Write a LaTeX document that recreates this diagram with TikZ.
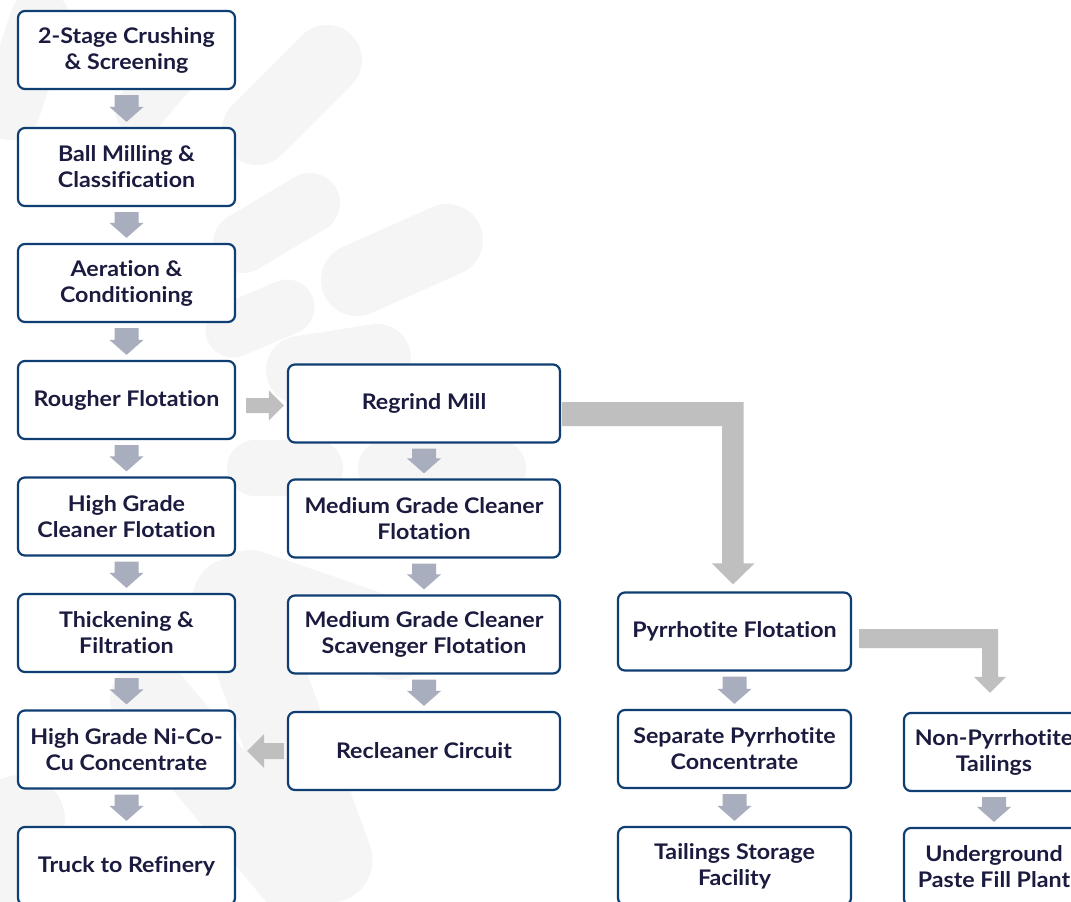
\documentclass[tikz,border=0pt]{standalone}
\usepackage{fontspec}
\setmainfont{Lato}[RawFeature=-liga, FakeStretch=1.08]
\usetikzlibrary{calc}
\definecolor{txtcol}{HTML}{1B1B3F}
\definecolor{bordcol}{HTML}{0F3E72}
\definecolor{dncol}{HTML}{A8AEBD}
\definecolor{hzcol}{HTML}{BFBFBF}
\definecolor{bgcap}{HTML}{F5F5F5}
\tikzset{
  box/.style={draw=bordcol, line width=2.2pt, rounded corners=7pt, fill=white,
    text=txtcol, align=center, inner sep=0pt,
    font=\fontsize{21.5}{26}\selectfont\bfseries},
  c1/.style={box, minimum width=217pt, minimum height=78pt},
  c2/.style={box, minimum width=272pt, minimum height=78pt},
  c3/.style={box, minimum width=233pt, minimum height=78pt},
  c4/.style={box, minimum width=180pt, minimum height=78pt},
  capsule/.style={draw=bgcap, line cap=round},
}
\newcommand\dnarrow[2]{%
  \fill[dncol] let \p1=($(#1.south)+(0,5)$), \p2=($(#2.north)+(0,-5)$) in
    (\x1-12pt,\y1) -- (\x1+12pt,\y1) -- (\x1+12pt,\y2+15pt) -- (\x1+17pt,\y2+15pt)
    -- (\x1,\y2) -- (\x1-17pt,\y2+15pt) -- (\x1-12pt,\y2+15pt) -- cycle;}
\begin{document}
\begin{tikzpicture}[x=1pt,y=-1pt]
\useasboundingbox (0,0) rectangle (1071,902);
\clip (0,0) rectangle (1071,902);
\fill[white] (0,0) rectangle (1071,902);
% faint background capsules
\draw[capsule, line width=70pt] (257,130) -- (327,60);
\draw[capsule, line width=60pt] (243,243) -- (310,203);
\draw[capsule, line width=72pt] (357,280) -- (447,240);
\draw[capsule, line width=55pt] (233,330) -- (287,307);
\draw[capsule, line width=68pt] (300,370) -- (377,358);
\draw[capsule, line width=56pt] (255,468) -- (315,468);
\draw[capsule, line width=56pt] (386,468) -- (498,468);
\draw[capsule, line width=80pt] (250,590) -- (395,640);
\draw[capsule, line width=85pt] (235,600) -- (330,860);
\draw[capsule, line width=80pt] (150,700) -- (300,880);
\draw[capsule, line width=90pt] (0,860) -- (20,820);
\draw[capsule, line width=60pt] (10,110) -- (40,20);
\draw[capsule, line width=50pt] (140,110) -- (200,40);
% column 1
\node[c1] (n1) at (126.5,50) {2-Stage Crushing\\\& Screening};
\node[c1] (n2) at (126.5,167) {Ball Milling \&\\Classification};
\node[c1] (n3) at (126.5,283) {Aeration \&\\Conditioning};
\node[c1] (n4) at (126.5,400) {Rougher Flotation};
\node[c1] (n5) at (126.5,516.5) {High Grade\\Cleaner Flotation};
\node[c1] (n6) at (126.5,633) {Thickening \&\\Filtration};
\node[c1] (n7) at (126.5,749.5) {High Grade Ni-Co-\\Cu Concentrate};
\node[c1] (n8) at (126.5,866) {Truck to Refinery};
% column 2
\node[c2] (m1) at (424,403.5) {Regrind Mill};
\node[c2] (m2) at (424,518.5) {Medium Grade Cleaner\\Flotation};
\node[c2] (m3) at (424,634.5) {Medium Grade Cleaner\\Scavenger Flotation};
\node[c2] (m4) at (424,751) {Recleaner Circuit};
% column 3
\node[c3] (p1) at (734.5,631.5) {Pyrrhotite Flotation};
\node[c3] (p2) at (734.5,749) {Separate Pyrrhotite\\Concentrate};
\node[c3] (p3) at (734.5,866) {Tailings Storage\\Facility};
% column 4
\node[c4] (q1) at (994,752) {Non-Pyrrhotite\\Tailings};
\node[c4] (q2) at (994,867) {Underground\\Paste Fill Plant};
% down arrows
\dnarrow{n1}{n2}
\dnarrow{n2}{n3}
\dnarrow{n3}{n4}
\dnarrow{n4}{n5}
\dnarrow{n5}{n6}
\dnarrow{n6}{n7}
\dnarrow{n7}{n8}
\dnarrow{m1}{m2}
\dnarrow{m2}{m3}
\dnarrow{m3}{m4}
\dnarrow{p1}{p2}
\dnarrow{p2}{p3}
\dnarrow{q1}{q2}
% Rougher -> Regrind
\fill[hzcol] let \p1=($(n4.east)+(10,0)$), \p2=($(m1.west)+(-3,2)$) in
  (\x1,\y2+7.5pt) -- (\x2-15pt,\y2+7.5pt) -- (\x2-15pt,\y2+15pt) -- (\x2,\y2)
  -- (\x2-15pt,\y2-15pt) -- (\x2-15pt,\y2-7.5pt) -- (\x1,\y2-7.5pt) -- cycle;
% Recleaner -> HG concentrate
\fill[hzcol] let \p1=($(m4.west)+(-3,0)$), \p2=($(n7.east)+(11,0)$) in
  (\x1,\y1+8pt) -- (\x2+17pt,\y1+8pt) -- (\x2+17pt,\y1+17pt) -- (\x2,\y1)
  -- (\x2+17pt,\y1-17pt) -- (\x2+17pt,\y1-8pt) -- (\x1,\y1-8pt) -- cycle;
% Regrind -> Pyrrhotite (elbow)
\fill[hzcol] let \p1=(m1.east), \p2=(p1.north) in
  (\x1+1pt,\y1+1.5pt) -- (\x2+9pt,\y1+1.5pt) -- (\x2+9pt,\y2+28pt)
  -- (\x2+20pt,\y2+28pt) -- (\x2-1.5pt,\y2+7pt) -- (\x2-22.5pt,\y2+28pt)
  -- (\x2-12.5pt,\y2+28pt) -- (\x2-12.5pt,\y1-22.5pt) -- (\x1+1pt,\y1-22.5pt) -- cycle;
% Pyrrhotite -> Non-Pyrrhotite (elbow)
\fill[hzcol] let \p1=(p1.east), \p2=(q1.north) in
  (\x1+7pt,\y1+2.5pt) -- (\x2+4pt,\y1+2.5pt) -- (\x2+4pt,\y2+35pt)
  -- (\x2+12pt,\y2+35pt) -- (\x2-4pt,\y2+19pt) -- (\x2-20pt,\y2+35pt)
  -- (\x2-12pt,\y2+35pt) -- (\x2-12pt,\y1-16.5pt) -- (\x1+7pt,\y1-16.5pt) -- cycle;
\end{tikzpicture}
\end{document}
